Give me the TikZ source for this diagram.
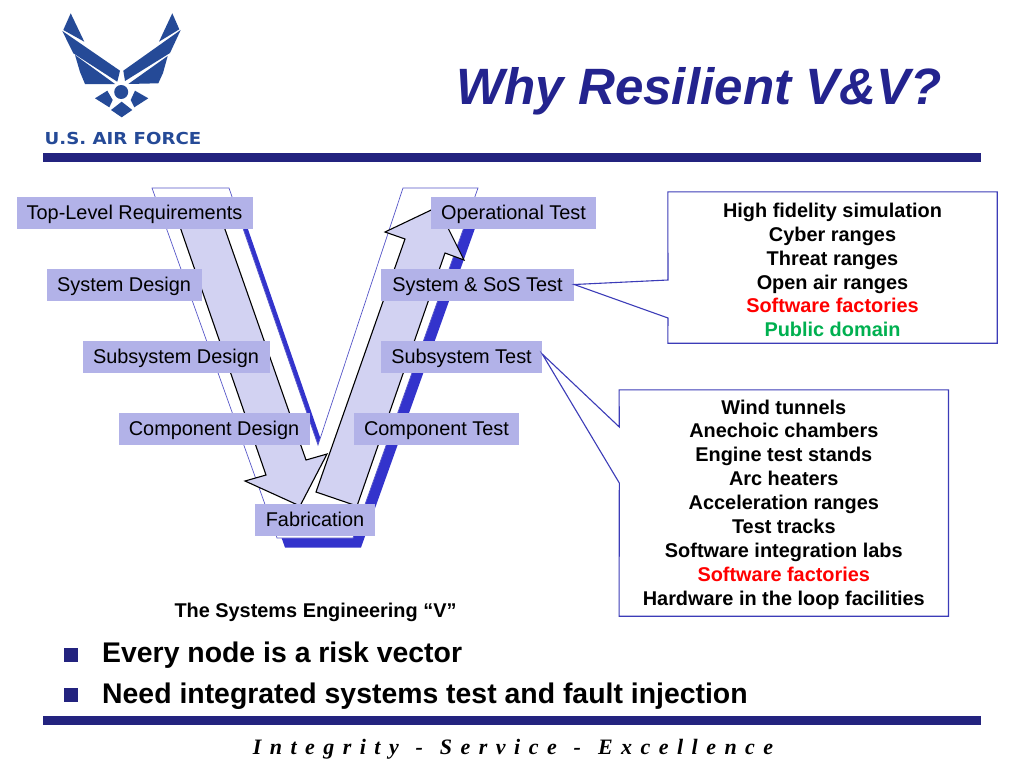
\documentclass[tikz,border=0pt]{standalone}
\usepackage{fontspec}
\setmainfont{Liberation Sans}
\newfontfamily\footfont[WordSpace=1.54]{Liberation Serif}
\newfontfamily\logofont[FakeStretch=1.1]{DejaVu Sans}
\definecolor{bandblue}{HTML}{23237F}
\definecolor{edgeblue}{HTML}{3333CC}
\definecolor{calloutblue}{HTML}{3C3CB8}
\definecolor{vlineblue}{HTML}{5555C8}
\definecolor{labelbox}{HTML}{B2B2E8}
\definecolor{logoblue}{HTML}{254A97}
\definecolor{arrowfill}{HTML}{D2D2F2}
\definecolor{titleblue}{HTML}{23238E}
\definecolor{publicgreen}{HTML}{00B050}
\tikzset{
 x=1pt,y=-1pt,
 labelnode/.style={fill=labelbox,inner sep=0pt,text height=18pt,text depth=4.4pt,font=\fontsize{19.9}{22}\selectfont,text=black},
 arrowshape/.style={draw=black,line width=1.1pt,fill=arrowfill,line join=miter},
 thinline/.style={draw=vlineblue,line width=0.7pt},
 calloutline/.style={draw=calloutblue,line width=1.1pt,fill=white,line join=miter},
 infoarea/.style={inner sep=0pt},
 infotext/.style={font=\fontsize{19.9}{23.9}\selectfont\bfseries,align=center,text=black},
 bullet/.style={fill=bandblue,minimum size=14pt,inner sep=0pt},
 bulltext/.style={anchor=west,inner sep=0pt,font=\fontsize{28.4}{32}\selectfont\bfseries},
 logo/.style={fill=logoblue,draw=none},
}
\begin{document}
\begin{tikzpicture}
\useasboundingbox (0,0) rectangle (1024,768);
\fill[white] (0,0) rectangle (1024,768);
% logo
\fill[logo] (70.700,13.300)--(84.300,41.700)--(63.300,30)--cycle;
\fill[logo] (62.300,31)--(120,70.700)--(117.300,81.700)--(73.300,53.300)--cycle;
\fill[logo] (75,55)--(115,84)--(85,84)--(80,72)--cycle;
\fill[logo] (172.300,13.300)--(179.300,29.300)--(159,41.700)--cycle;
\fill[logo] (180.700,30)--(123.300,70.700)--(125,81)--(170,53)--cycle;
\fill[logo] (167.700,56)--(128.300,84)--(158.300,83.300)--(163,73)--cycle;
\fill[logo] (121.200,92) circle (7);
\fill[logo] (95,98.300)--(107.300,90.700)--(112.700,100)--(109.300,107.300)--cycle;
\fill[logo] (148.300,98.300)--(135,90.700)--(130.700,100)--(134.300,107.300)--cycle;
\fill[logo] (121.700,101.700)--(132.300,110)--(121.700,117.300)--(111,110)--cycle;
\node[anchor=center,inner sep=0pt,text=logoblue,font=\logofont\fontsize{16.500}{20}\selectfont\bfseries] (logotext) at (123,138.500) {U.S. AIR FORCE};
% title
\node[anchor=center,text=titleblue,font=\fontsize{51.100}{54}\selectfont\bfseries\itshape] (title) at (699,91.500) {Why Resilient V\&V?};
% bands
\fill[bandblue] (43,153) rectangle (981,162);
\fill[bandblue] (43,716) rectangle (981,725);
% V with shadow
\fill[edgeblue,shift={(8,9.500)}] (152,188)--(229,188)--(318,445)--(403,188)--(478,188)--(353,538)--(277,538)--cycle;
\filldraw[thinline,fill=white] (152,188)--(229,188)--(318,445)--(403,188)--(478,188)--(353,538)--(277,538)--cycle;
% arrows
\filldraw[arrowshape] (170,198)--(214,198)--(306,460)--(327,454)--(300,506)--(245,481)--(266,475)--cycle;
\filldraw[arrowshape] (316,492)--(405,239)--(385,232)--(437.500,207)--(464,260)--(445,253)--(357,506)--cycle;
% label boxes
\node[labelnode,minimum width=236pt,minimum height=32pt] (tlr) at (134.500,212.500) {Top-Level Requirements};
\node[labelnode,minimum width=155pt,minimum height=32pt] (sd) at (124,284.500) {System Design};
\node[labelnode,minimum width=187pt,minimum height=32pt] (ssd) at (176,356.500) {Subsystem Design};
\node[labelnode,minimum width=191pt,minimum height=32pt] (cd) at (214,428.500) {Component Design};
\node[labelnode,minimum width=165pt,minimum height=32pt] (ot) at (513.500,212.500) {Operational Test};
\node[labelnode,minimum width=193pt,minimum height=32pt] (st) at (477.500,284.500) {System \& SoS Test};
\node[labelnode,minimum width=161pt,minimum height=32pt] (sst) at (461.500,356.500) {Subsystem Test};
\node[labelnode,minimum width=165pt,minimum height=32pt] (ct) at (436.500,428.500) {Component Test};
\node[labelnode,minimum width=120pt,minimum height=32pt] (fab) at (315,520) {Fabrication};
% callout boxes
\node[infoarea,minimum width=329pt,minimum height=151pt] (hf) at (832.500,267.500) {};
\coordinate (hfa) at (668,280);
\coordinate (hfb) at (668,318);
\draw[calloutline] (hf.north west)--(hf.north east)--(hf.south east)--(hf.south west)--(hfb)--(st.east)--(hfa)--cycle;
\node[infotext] (hftext) at (832.500,270) {High fidelity simulation\\Cyber ranges\\Threat ranges\\Open air ranges\\\textcolor{red}{Software factories}\\\textcolor{publicgreen}{Public domain}};
\node[infoarea,minimum width=329pt,minimum height=226pt] (wt) at (783.800,503) {};
\coordinate (wta) at (619.300,427);
\coordinate (wtb) at (619.300,483);
\draw[calloutline] (wt.north west)--(wt.north east)--(wt.south east)--(wt.south west)--(wtb)--([yshift=2.500pt]sst.east)--(wta)--cycle;
\node[infotext] (wttext) at (783.800,504.500) {Wind tunnels\\Anechoic chambers\\Engine test stands\\Arc heaters\\Acceleration ranges\\Test tracks\\Software integration labs\\\textcolor{red}{Software factories}\\Hardware in the loop facilities};
% caption
\node[font=\fontsize{19.9}{22}\selectfont\bfseries] (cap) at (315.500,612.500) {The Systems Engineering “V”};
% bullets
\node[bullet] (b1) at (71,654.500) {};
\node[bullet] (b2) at (71,694.500) {};
\node[bulltext] (t1) at (102,655) {Every node is a risk vector};
\node[bulltext] (t2) at (102,696) {Need integrated systems test and fault injection};
% footer
\node[font=\footfont\fontsize{22}{24}\selectfont\bfseries\itshape,text=black] (foot) at (513,749) {I n t e g r i t y \ - \ S e r v i c e \ - \ E x c e l l e n c e};
\end{tikzpicture}
\end{document}
